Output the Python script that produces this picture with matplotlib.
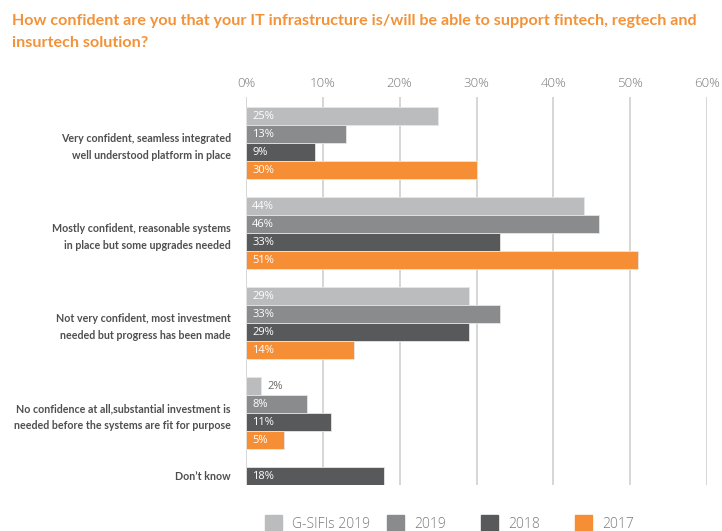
import matplotlib.pyplot as plt
from matplotlib.patches import Rectangle

categories = [
    "Very confident, seamless integrated\nwell understood platform in place",
    "Mostly confident, reasonable systems\nin place but some upgrades needed",
    "Not very confident, most investment\nneeded but progress has been made",
    "No confidence at all,substantial investment is\nneeded before the systems are fit for purpose",
    "Don\u2019t know",
]
series_names = ["G-SIFIs 2019", "2019", "2018", "2017"]
gsifis_2019 = [25, 44, 29, 2, None]
survey_2019 = [13, 46, 33, 8, None]
survey_2018 = [9, 33, 29, 11, 18]
survey_2017 = [30, 51, 14, 5, None]
x_ticks = [0, 10, 20, 30, 40, 50, 60]
title = ("How confident are you that your IT infrastructure is/will be able to support fintech, regtech and\n"
         "insurtech solution?")

colors = ["#bbbcbe", "#8a8b8d", "#58595b", "#f58e35"]
orange_title = "#f39238"
label_gray = "#4f4f4f"
tick_gray = "#7a7a7a"
grid_gray = "#d6d6d6"

W, H = 722, 531
fig = plt.figure(figsize=(W / 100, H / 100), dpi=100)
ax = fig.add_axes([246 / W, 1 - 485 / H, (707 - 246) / W, (485 - 97) / H])

all_series = [gsifis_2019, survey_2019, survey_2018, survey_2017]
group_step = 5
centers = []
for g in range(len(categories)):
    slot = 0
    base = g * group_step
    for s, vals in enumerate(all_series):
        v = vals[g]
        if v is None:
            continue
        y = base + slot
        ax.barh(y, v, height=1.0, color=colors[s], edgecolor="#e6e6e6",
                linewidth=0.6, zorder=2)
        if v >= 4:
            ax.text(0.8, y + 0.05, f"{v}%", color="white", fontsize=8,
                    family="Open Sans", va="center", ha="left", zorder=3)
        else:
            ax.text(v + 0.8, y + 0.05, f"{v}%", color="#6a6a6a", fontsize=8,
                    family="Open Sans", va="center", ha="left", zorder=3)
        slot += 1
    centers.append(base + (slot - 1) / 2)

ax.set_xlim(0, 60)
ax.set_ylim(20.5, -1.04)
ax.set_xticks(x_ticks)
ax.set_xticklabels([f"{t}%" for t in x_ticks])
ax.xaxis.tick_top()
ax.tick_params(axis="x", length=0, pad=5, labelsize=9.5, labelcolor=tick_gray)
for lab in ax.get_xticklabels():
    lab.set_family("Open Sans")
    lab.set_fontweight("light")
ax.grid(axis="x", color=grid_gray, linewidth=1.4, zorder=0)
ax.set_axisbelow(True)
for sp in ax.spines.values():
    sp.set_visible(False)

ax.set_yticks(centers)
ax.set_yticklabels(categories)
ax.tick_params(axis="y", length=0, pad=11)
for lab in ax.get_yticklabels():
    lab.set_family("Lato")
    lab.set_fontweight("bold")
    lab.set_fontsize(7.7)
    lab.set_color(label_gray)
    lab.set_multialignment("right")
    lab.set_linespacing(1.65)

fig.text(12 / W, 1 - 32 / H, title, color=orange_title, fontsize=11.6,
         family="Lato", fontweight="bold", ha="left", va="center",
         linespacing=1.65)

# legend row along the bottom edge
legend_x = [265, 387, 481, 575]
for x0, name, c in zip(legend_x, series_names, colors):
    fig.patches.append(Rectangle((x0 / W, 0), 17 / W, 16 / H, color=c,
                                 transform=fig.transFigure, figure=fig))
    fig.text((x0 + 27) / W, 1 - 524 / H, name, color=tick_gray, fontsize=10,
             family="Open Sans", fontweight="light", ha="left", va="center")

fig.savefig("out.png", dpi=100)
